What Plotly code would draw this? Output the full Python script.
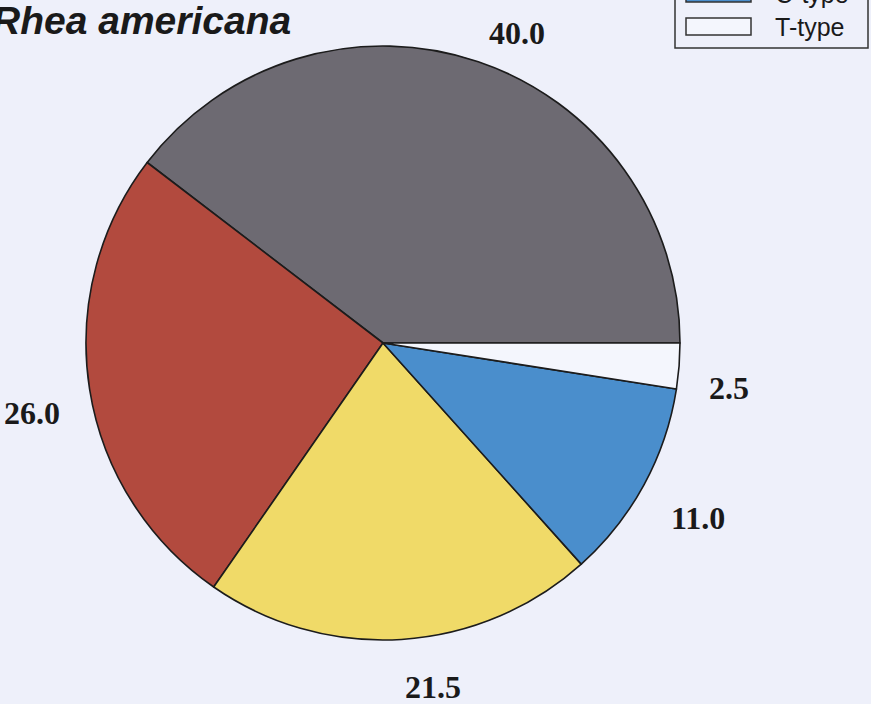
import math
import plotly.graph_objects as go

# Slice data, in drawing order (counter-clockwise from 3 o'clock)
slice_names = ["Group 1", "Group 2", "Group 3", "C-type", "T-type"]
slice_values = [40.0, 26.0, 21.5, 11.0, 2.5]
slice_colors = ["#6d6a72", "#b24a3e", "#f0da68", "#4a8ecc", "#f4f6fd"]

legend_labels = ["C-type", "T-type"]
legend_colors = ["#4a8ecc", "#f4f6fd"]

W, H = 871, 704
BG = "#eef0fa"

# Pie placement in pixels
cx, cy, r = 383, 343, 297

total = sum(slice_values)
# plotly puts the first counter-clockwise slice on the clockwise side of
# `rotation`, so shift it so the first slice begins at 3 o'clock
rotation = 90 - 360.0 * slice_values[0] / total

fig = go.Figure()
fig.add_trace(go.Pie(
    labels=slice_names,
    values=slice_values,
    sort=False,
    direction="counterclockwise",
    rotation=rotation,
    textinfo="none",
    hoverinfo="label+value",
    showlegend=False,
    marker=dict(colors=slice_colors, line=dict(color="#1c1c1c", width=1.6)),
    domain=dict(x=[(cx - r) / W, (cx + r) / W],
                y=[1 - (cy + r) / H, 1 - (cy - r) / H]),
))

# Value labels: the label corner nearest the pie sits on the slice's
# mid-angle ray, a little outside the rim
LABEL_SIZE = 32
half_h = 0.35 * LABEL_SIZE      # half the digit height
box_shift = 0.28 * LABEL_SIZE   # annotation box middle vs. digit centre
cum = 0.0
annotations = []
for v in slice_values:
    theta = math.radians(360.0 * (cum + v / 2.0) / total)
    cum += v
    c, s = math.cos(theta), math.sin(theta)
    px = cx + 1.094 * r * c
    py = cy - 1.094 * r * s
    py += (-half_h if s >= 0 else half_h) + box_shift
    annotations.append(dict(
        x=px / W, y=1 - py / H, xref="paper", yref="paper",
        text=f"<b>{v:.1f}</b>", showarrow=False,
        xanchor="left" if c >= 0 else "right",
        yanchor="middle",
        font=dict(family="Liberation Serif, Times New Roman, serif", size=LABEL_SIZE, color="#1a1a1a"),
    ))

# Title
annotations.append(dict(
    x=-10 / W, y=1 - 21 / H, xref="paper", yref="paper",
    text="<b><i>Rhea americana</i></b>", showarrow=False,
    xanchor="left", yanchor="middle",
    font=dict(family="Liberation Sans, Arial, sans-serif", size=39, color="#1a1a1a"),
))

# Legend box (top part runs off the page)
shapes = [dict(type="rect", xref="paper", yref="paper",
               x0=675 / W, x1=868 / W, y0=1 - 48 / H, y1=1 + 60 / H,
               line=dict(color="#333333", width=1.5), fillcolor="rgba(0,0,0,0)")]
row_top = [-15, 18]
for lbl, col, top in zip(legend_labels, legend_colors, row_top):
    shapes.append(dict(type="rect", xref="paper", yref="paper",
                       x0=686 / W, x1=751 / W, y0=1 - (top + 17) / H, y1=1 - top / H,
                       line=dict(color="#333333", width=1.5), fillcolor=col))
    annotations.append(dict(
        x=773 / W, y=1 - (top + 9) / H, xref="paper", yref="paper",
        text=lbl, showarrow=False, xanchor="left", yanchor="middle",
        font=dict(family="Liberation Sans, Arial, sans-serif", size=25, color="#1a1a1a"),
    ))

fig.update_layout(
    width=W, height=H,
    margin=dict(l=0, r=0, t=0, b=0),
    paper_bgcolor=BG, plot_bgcolor=BG,
    annotations=annotations, shapes=shapes,
    showlegend=False,
)

fig.write_html("out.html")
